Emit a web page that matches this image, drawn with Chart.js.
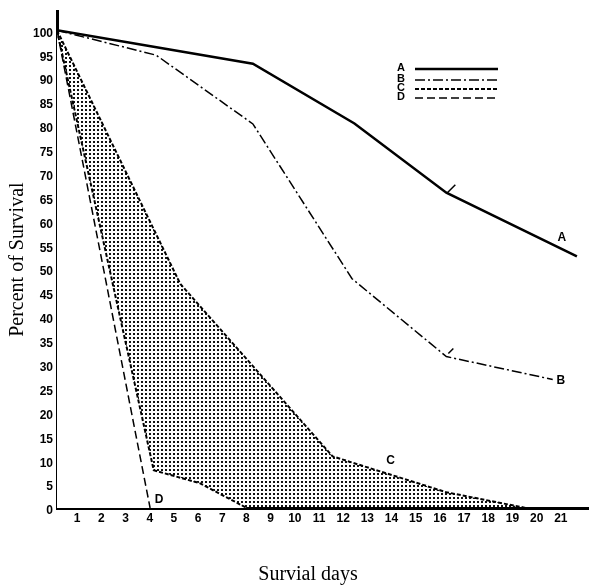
<!DOCTYPE html>
<html>
<head>
<meta charset="utf-8">
<script src="https://cdn.jsdelivr.net/npm/chart.js@4.4.1/dist/chart.umd.min.js"></script>
<style>
html,body{margin:0;padding:0;background:#fff;}
</style>
</head>
<body>
<canvas id="survChart" width="589" height="587"></canvas>
<script>
// values
const daysA=[0,8.1,12.3,16.1,21.5];
const survA=[100,93,80.5,66,52.7];
const daysB=[0,4.1,8.1,12.2,16.1,20.5];
const survB=[100,94.8,80.4,48,31.7,26.9];
const daysCup=[0,5.1,11.4,16.1,19.4];
const survCup=[100,46.9,10.8,3.3,0];
const daysClow=[0,4,5.9,7.85];
const survClow=[100,7.9,5.2,0];
const daysD=[0,3.85];
const survD=[100,0];
const seriesNames=["A","B","C","D"];
const xTickVals=[1,2,3,4,5,6,7,8,9,10,11,12,13,14,15,16,17,18,19,20,21];
const yTickVals=[0,5,10,15,20,25,30,35,40,45,50,55,60,65,70,75,80,85,90,95,100];

function pts(xs,ys){return xs.map((d,i)=>({x:d,y:ys[i]}));}

// stipple for the shaded band
const pc=document.createElement('canvas');
pc.width=4;pc.height=4;
const pctx=pc.getContext('2d');
pctx.fillStyle='#111';
pctx.fillRect(1,1,2,2);
const dots=pctx.createPattern(pc,'repeat');

const dashA=[];
const dashB=[10,3,2,3];
const dashC=[4,2];
const dashD=[8,4];

const tickFont={family:'"Liberation Sans", Arial, sans-serif',size:12,weight:'bold'};

const extras={
  id:'extras',
  afterDatasetsDraw(chart){
    const ctx=chart.ctx,sx=chart.scales.x,sy=chart.scales.y;
    const P=(d,v)=>[sx.getPixelForValue(d),sy.getPixelForValue(v)];
    ctx.save();
    ctx.fillStyle='#000';ctx.strokeStyle='#000';
    ctx.font='bold 12px "Liberation Sans", Arial, sans-serif';
    ctx.textAlign='center';ctx.textBaseline='middle';
    // curve labels
    let p=P(daysA[daysA.length-1],survA[survA.length-1]);
    ctx.fillText(seriesNames[0],p[0]-15,p[1]-19);
    p=P(daysB[daysB.length-1],survB[survB.length-1]);
    ctx.fillText(seriesNames[1],p[0]+8,p[1]+1);
    p=P(daysCup[2],survCup[2]);
    ctx.fillText(seriesNames[2],p[0]+58,p[1]+4);
    p=P(daysD[1],survD[1]);
    ctx.fillText(seriesNames[3],p[0]+9,p[1]-8);
    // little pointer marks at day 16
    ctx.lineWidth=1.5;
    p=P(daysA[3],survA[3]);
    ctx.beginPath();ctx.moveTo(p[0]+1,p[1]);ctx.lineTo(p[0]+9,p[1]-8);ctx.stroke();
    p=P(daysB[4],survB[4]);
    ctx.beginPath();ctx.moveTo(p[0]+2,p[1]-3);ctx.lineTo(p[0]+7,p[1]-8);ctx.stroke();
    // legend
    ctx.font='bold 11px "Liberation Sans", Arial, sans-serif';
    const lx=401,ly=[68,79,88,97],dsh=[dashA,dashB,dashC,dashD],lw=[2.5,1.5,2,1.5];
    for(let i=0;i<4;i++){
      ctx.fillText(seriesNames[i],lx,ly[i]);
      ctx.setLineDash(dsh[i]);ctx.lineWidth=lw[i];
      ctx.beginPath();ctx.moveTo(415,ly[i]+1);ctx.lineTo(498,ly[i]+1);ctx.stroke();
    }
    ctx.setLineDash([]);
    // x title
    ctx.font='20px "Liberation Serif", "Times New Roman", serif';
    ctx.textBaseline='alphabetic';
    ctx.fillText('Survial days',308,580);
    ctx.restore();
  }
};

// all fills go down before any line; they are painted from the last dataset
// to the first, so the white area under the lower C edge covers the dots under it
new Chart(document.getElementById('survChart'),{
  type:'line',
  data:{
    datasets:[
      {label:'A',data:pts(daysA,survA),borderColor:'#000',borderWidth:2.5,fill:false},
      {label:'B',data:pts(daysB,survB),borderColor:'#000',borderWidth:1.5,borderDash:dashB,fill:false},
      {label:'C low',data:pts(daysClow,survClow),borderColor:'#000',borderWidth:2,borderDash:dashC,fill:'origin',backgroundColor:'#fff'},
      {label:'C',data:pts(daysCup,survCup),borderColor:'#000',borderWidth:2,borderDash:dashC,fill:'origin',backgroundColor:dots},
      {label:'D',data:pts(daysD,survD),borderColor:'#000',borderWidth:1.5,borderDash:dashD,fill:false}
    ]
  },
  options:{
    responsive:false,
    animation:false,
    devicePixelRatio:1,
    elements:{point:{radius:0},line:{tension:0}},
    layout:{padding:{top:4,right:0,left:0,bottom:0}},
    plugins:{legend:{display:false},tooltip:{enabled:false},filler:{drawTime:'beforeDatasetsDraw'}},
    scales:{
      x:{
        type:'linear',min:0,max:22,
        grid:{display:false,drawTicks:false},
        border:{display:true,width:3,color:'#000'},
        ticks:{font:tickFont,color:'#000',padding:3,labelOffset:-4,autoSkip:false,maxRotation:0},
        afterBuildTicks:s=>{s.ticks=xTickVals.map(v=>({value:v}));},
        afterFit:s=>{s.height=79;}
      },
      y:{
        type:'linear',min:0,max:104,
        grid:{display:false,drawTicks:false},
        border:{display:true,width:3,color:'#000'},
        ticks:{font:tickFont,color:'#000',padding:4,labelOffset:3,autoSkip:false},
        afterBuildTicks:s=>{s.ticks=yTickVals.map(v=>({value:v}));},
        afterFit:s=>{s.width=57;},
        title:{display:true,text:'Percent of Survival',color:'#000',
          font:{family:'"Liberation Serif", "Times New Roman", serif',size:20},padding:{top:6,bottom:0}}
      }
    }
  },
  plugins:[extras]
});
</script>
</body>
</html>
